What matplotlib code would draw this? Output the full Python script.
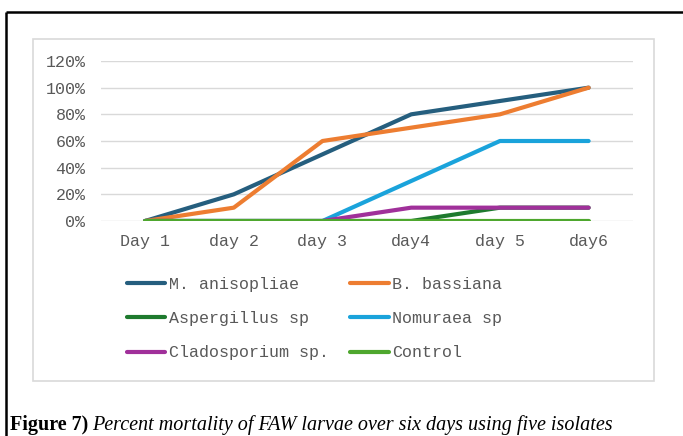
import matplotlib
matplotlib.use('Agg')
import matplotlib.pyplot as plt
from matplotlib.lines import Line2D
from matplotlib.patches import Rectangle
from matplotlib.ticker import FuncFormatter

# data
days = ['Day 1', 'day 2', 'day 3', 'day4', 'day 5', 'day6']
m_anisopliae = [0, 20, 50, 80, 90, 100]
b_bassiana = [0, 10, 60, 70, 80, 100]
aspergillus = [0, 0, 0, 0, 10, 10]
nomuraea = [0, 0, 0, 30, 60, 60]
cladosporium = [0, 0, 0, 10, 10, 10]
control = [0, 0, 0, 0, 0, 0]

series_names = ['M. anisopliae', 'B. bassiana', 'Aspergillus sp', 'Nomuraea sp',
                'Cladosporium sp.', 'Control']
series_values = [m_anisopliae, b_bassiana, aspergillus, nomuraea, cladosporium, control]
series_colors = ['#255E7E', '#ED7D31', '#1E7A2E', '#1AA3DB', '#A0309A', '#4EA72E']

W, H = 683, 436
DPI = 100
fig = plt.figure(figsize=(W / DPI, H / DPI), dpi=DPI)
fig.patch.set_facecolor('white')


def px_box(x0, y0, x1, y1):
    # pixel box (top-left origin) -> figure fraction [left, bottom, width, height]
    return [x0 / W, 1 - y1 / H, (x1 - x0) / W, (y1 - y0) / H]


ax = fig.add_axes(px_box(100.7, 61, 633, 221))
x = list(range(len(days)))
handles = []
for name, vals, col in zip(series_names, series_values, series_colors):
    ln, = ax.plot(x, vals, color=col, lw=3.0, label=name,
                  solid_capstyle='round', solid_joinstyle='round')
    handles.append(ln)

tick_font = dict(family='Liberation Mono', size=12, color='#595959')
ax.set_xlim(-0.5, len(days) - 0.5)
ax.set_ylim(0, 120)
ax.set_yticks(range(0, 121, 20))
ax.yaxis.set_major_formatter(FuncFormatter(lambda v, p: f'{int(v)}%'))
ax.set_xticks(x)
ax.set_xticklabels(days)
for lab in ax.get_xticklabels() + ax.get_yticklabels():
    lab.set_fontfamily(tick_font['family'])
    lab.set_fontsize(tick_font['size'])
    lab.set_color(tick_font['color'])
ax.tick_params(axis='both', length=0)
ax.tick_params(axis='y', pad=11)
ax.tick_params(axis='x', pad=9)
ax.grid(axis='y', color='#D9D9D9', lw=1)
ax.set_axisbelow(True)
for s in ax.spines.values():
    s.set_visible(False)
ax.patch.set_alpha(0)

# legend, filled row by row like the reference (matplotlib fills by column)
order = [0, 2, 4, 1, 3, 5]
leg = fig.legend([handles[i] for i in order], [series_names[i] for i in order],
                 loc='upper left', bbox_to_anchor=(127 / W, 1 - 277 / H),
                 ncol=2, frameon=False, borderpad=0, borderaxespad=0,
                 handlelength=2.3, handletextpad=0.2, columnspacing=1.3,
                 labelspacing=1.15,
                 prop=dict(family='Liberation Mono', size=12))
for t in leg.get_texts():
    t.set_color('#595959')

# inner chart box
fig.add_artist(Rectangle((33 / W, 1 - 381 / H), (654 - 33) / W, (381 - 39) / H,
                         transform=fig.transFigure, fill=False,
                         edgecolor='#D9D9D9', lw=1.2))

# outer black frame (left and top)
fig.add_artist(Line2D([6 / W, 6 / W], [0, 1 - 12 / H], transform=fig.transFigure,
                      color='black', lw=1.8, solid_capstyle='butt'))
fig.add_artist(Line2D([6 / W, 1], [1 - 12 / H, 1 - 12 / H], transform=fig.transFigure,
                      color='black', lw=1.8, solid_capstyle='butt'))

# caption
cap_y = 1 - 430 / H
t1 = fig.text(10 / W, cap_y, 'Figure 7)', family='Liberation Serif', weight='bold',
              size=14.5, va='baseline', ha='left', color='black')
fig.canvas.draw()
bb = t1.get_window_extent()
fig.text((bb.x1 + 4) / W, cap_y, 'Percent mortality of FAW larvae over six days using five isolates',
         family='Liberation Serif', style='italic', size=14.5, va='baseline', ha='left',
         color='black')

fig.savefig('out.png', dpi=DPI)
